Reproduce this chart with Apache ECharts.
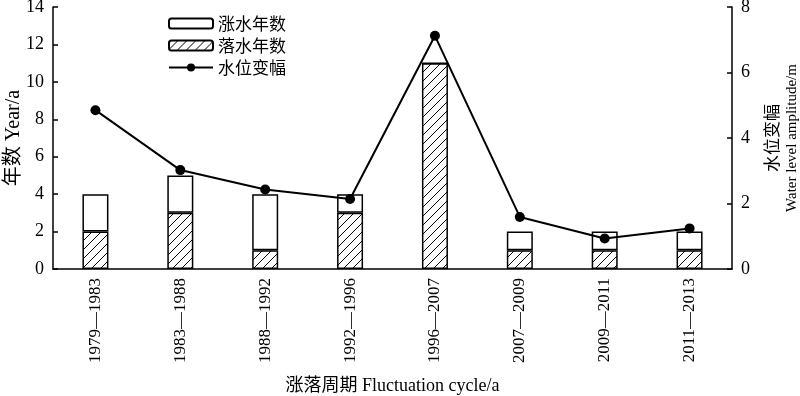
<!DOCTYPE html>
<html><head><meta charset="utf-8">
<script src="https://cdn.jsdelivr.net/npm/echarts@6/dist/echarts.min.js"></script>
<style>html,body{margin:0;padding:0;background:#fff}#c{width:800px;height:396px}</style>
</head><body><div id="c"></div>
<script>
var categories = ['1979—1983','1983—1988','1988—1992','1992—1996','1996—2007','2007—2009','2009—2011','2011—2013'];
var riseYears = [2, 2, 3, 1, 0, 1, 1, 1];
var fallYears = [2, 3, 1, 3, 11, 1, 1, 1];
var amplitude = [4.85, 3.02, 2.43, 2.14, 7.12, 1.59, 0.93, 1.24];
var leftTicks = {min: 0, max: 14, interval: 2};
var rightTicks = {min: 0, max: 8, interval: 2};

var FONT = '"Liberation Serif", "Noto Sans CJK SC", serif';
var CJK = '"Noto Sans CJK SC", sans-serif';

function hatch() {
  var s = 9, c = document.createElement('canvas');
  c.width = s; c.height = s;
  var g = c.getContext('2d');
  g.fillStyle = '#fff'; g.fillRect(0, 0, s, s);
  g.strokeStyle = '#000'; g.lineWidth = 1;
  g.beginPath();
  g.moveTo(0, s); g.lineTo(s, 0);
  g.moveTo(-1, 1); g.lineTo(1, -1);
  g.moveTo(s - 1, s + 1); g.lineTo(s + 1, s - 1);
  g.stroke();
  return c;
}

var chart = echarts.init(document.getElementById('c'));
chart.setOption({
  animation: false,
  backgroundColor: '#fff',
  grid: {left: 53, right: 68, top: 7, bottom: 127, containLabel: false, outerBoundsMode: 'none'},
  legend: {
    orient: 'vertical', left: 163, top: 10,
    itemWidth: 44, itemHeight: 10, itemGap: 5,
    textStyle: {fontFamily: CJK, fontSize: 17, color: '#000'},
    data: ['涨水年数', '落水年数', '水位变幅']
  },
  xAxis: {
    type: 'category', data: categories,
    axisLine: {lineStyle: {color: '#000', width: 1.5}},
    axisTick: {show: false},
    axisLabel: {rotate: 90, color: '#000', fontFamily: FONT, fontSize: 17, margin: 9},
    name: '涨落周期 Fluctuation cycle/a', nameLocation: 'middle', nameGap: 108, nameMoveOverlap: false,
    nameTextStyle: {color: '#000', fontFamily: FONT, fontSize: 18}
  },
  yAxis: [{
    type: 'value', min: leftTicks.min, max: leftTicks.max, interval: leftTicks.interval,
    splitLine: {show: false},
    axisLine: {show: true, lineStyle: {color: '#000', width: 1.5}},
    axisTick: {show: true, inside: true, length: 5, lineStyle: {color: '#000', width: 1.5}},
    axisLabel: {color: '#000', fontFamily: FONT, fontSize: 18, margin: 9},
    name: '年数 Year/a', nameLocation: 'middle', nameGap: 29, nameRotate: 90, nameMoveOverlap: false,
    nameTextStyle: {color: '#000', fontFamily: FONT, fontSize: 20}
  }, {
    type: 'value', min: rightTicks.min, max: rightTicks.max, interval: rightTicks.interval,
    position: 'right',
    splitLine: {show: false},
    axisLine: {show: true, lineStyle: {color: '#000', width: 1.5}},
    axisTick: {show: true, inside: true, length: 5, lineStyle: {color: '#000', width: 1.5}},
    axisLabel: {color: '#000', fontFamily: FONT, fontSize: 18, margin: 9},
    name: '{cn|水位变幅}\n{en|Water level amplitude/m}', nameLocation: 'middle', nameGap: 30, nameRotate: 90, nameMoveOverlap: false,
    nameTextStyle: {
      color: '#000',
      rich: {
        cn: {fontFamily: CJK, fontSize: 17, lineHeight: 20, color: '#000'},
        en: {fontFamily: FONT, fontSize: 15, lineHeight: 20, color: '#000'}
      }
    }
  }],
  series: [{
    name: '落水年数', type: 'bar', stack: 'y', barWidth: 26, data: fallYears,
    itemStyle: {color: {image: hatch(), repeat: 'repeat'}, borderColor: '#000', borderWidth: 1.5}
  }, {
    name: '涨水年数', type: 'bar', stack: 'y', barWidth: 26, data: riseYears,
    itemStyle: {color: '#fff', borderColor: '#000', borderWidth: 1.5}
  }, {
    name: '水位变幅', type: 'line', yAxisIndex: 1, data: amplitude,
    symbol: 'circle', symbolSize: 10,
    lineStyle: {color: '#000', width: 2},
    itemStyle: {color: '#000'}
  }]
});
</script></body></html>
